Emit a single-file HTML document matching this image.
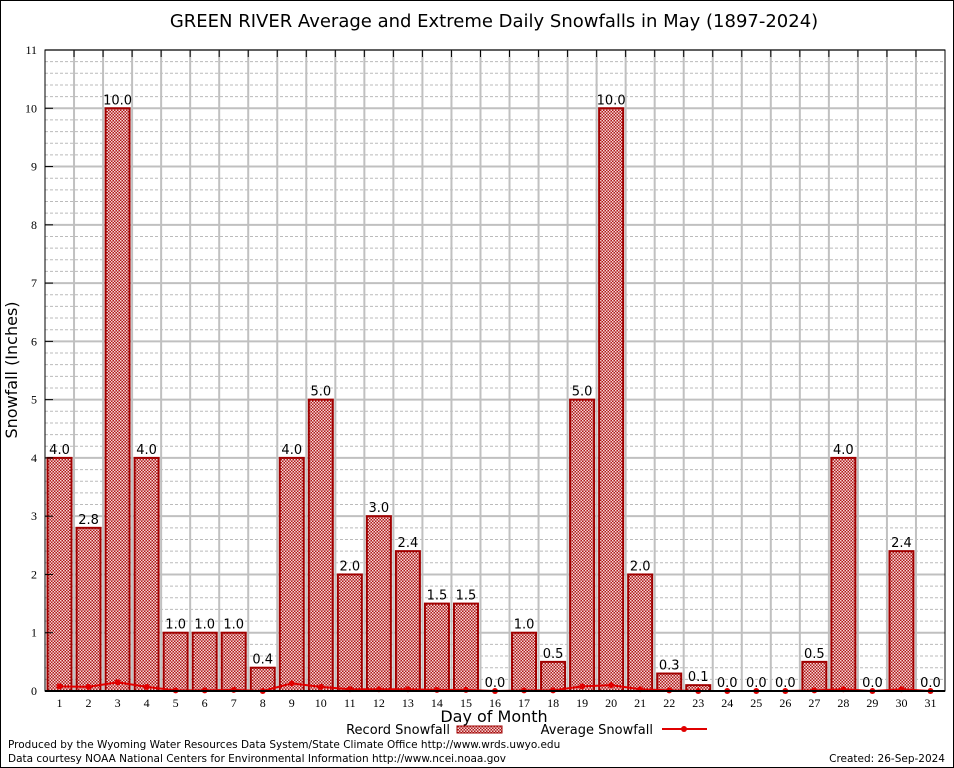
<!DOCTYPE html>
<html><head><meta charset="utf-8"><style>
body{margin:0;background:#fff}
svg{display:block;font-family:"DejaVu Sans","Liberation Sans",sans-serif}
</style></head><body>
<svg id="c" width="954" height="768">
<defs>
<pattern id="chk" width="3" height="3" patternUnits="userSpaceOnUse">
<rect width="3" height="3" fill="#b01818"/>
<rect x="0" y="0" width="1.5" height="1.5" fill="#f4d8d8"/>
<rect x="1.5" y="1.5" width="1.5" height="1.5" fill="#f4d8d8"/>
</pattern>
</defs>
<rect x="0.5" y="0.5" width="953" height="767" fill="#fff" stroke="#000"/>
<text x="494" y="27" font-size="18" text-anchor="middle">GREEN RIVER Average and Extreme Daily Snowfalls in May (1897-2024)</text>
<g id="grid"></g>
<g id="bars"></g>
<g id="avg"></g>
<g id="axes"></g>
<text x="17" y="370" font-size="16" text-anchor="middle" transform="rotate(-90 17 370)">Snowfall (Inches)</text>
<text x="494" y="722" font-size="16" text-anchor="middle">Day of Month</text>
<g>
<text x="450" y="734" font-size="13" text-anchor="end">Record Snowfall</text>
<rect x="457" y="726" width="45" height="7" fill="url(#chk)" stroke="#a00000"/>
<text x="653" y="734" font-size="13" text-anchor="end">Average Snowfall</text>
<line x1="662" y1="729" x2="707" y2="729" stroke="#e00000" stroke-width="2"/>
<circle cx="684" cy="729" r="3" fill="#e00000"/>
</g>
<text x="8" y="748" font-size="10.5">Produced by the Wyoming Water Resources Data System/State Climate Office http://www.wrds.uwyo.edu</text>
<text x="8" y="762" font-size="10.5">Data courtesy NOAA National Centers for Environmental Information http://www.ncei.noaa.gov</text>
<text x="945" y="762" font-size="10.5" text-anchor="end">Created:  26-Sep-2024</text>
</svg>
<script>
const days=[1,2,3,4,5,6,7,8,9,10,11,12,13,14,15,16,17,18,19,20,21,22,23,24,25,26,27,28,29,30,31];
const recordSnow=[4.0,2.8,10.0,4.0,1.0,1.0,1.0,0.4,4.0,5.0,2.0,3.0,2.4,1.5,1.5,0.0,1.0,0.5,5.0,10.0,2.0,0.3,0.1,0.0,0.0,0.0,0.5,4.0,0.0,2.4,0.0];
const avgSnow=[0.08,0.07,0.15,0.07,0.01,0.01,0.02,0.0,0.13,0.07,0.03,0.03,0.03,0.02,0.02,0.0,0.01,0.01,0.08,0.1,0.03,0.01,0.0,0.0,0.0,0.0,0.01,0.03,0.0,0.03,0.0];
const yTicks=[0,1,2,3,4,5,6,7,8,9,10,11];
const NS="http://www.w3.org/2000/svg";
const L=45,R=945,T=50,B=691,yMax=11;
const step=(R-L)/days.length;
const x=d=>L+step*(d-0.5);
const y=v=>B-(v/yMax)*(B-T);
function mk(t,a,p){const e=document.createElementNS(NS,t);for(const k in a)e.setAttribute(k,a[k]);p.appendChild(e);return e;}
const grid=document.getElementById('grid'),bars=document.getElementById('bars'),avg=document.getElementById('avg'),axes=document.getElementById('axes');
for(let v=0;v<=yMax;v+=0.2){const yy=y(v);if(Math.abs(v-Math.round(v))<1e-6)continue;
const l=mk('line',{x1:L,x2:R,y1:yy,y2:yy,stroke:'#bbb','stroke-dasharray':'3,2','stroke-width':1},grid);

}
yTicks.forEach(v=>{const yy=y(v);
const l=mk('line',{x1:L,x2:R,y1:yy,y2:yy,stroke:'#c0c0c0','stroke-width':2},grid);


const t=mk('text',{x:L-8,y:yy+4,'font-size':12,'text-anchor':'end','font-family':'Liberation Serif,serif'},axes);t.textContent=v;


const tk=mk('line',{x1:L,x2:L+8,y1:yy,y2:yy,stroke:'#000'},axes);


});
for(let k=1;k<days.length;k++){const xx=L+step*k;
const l=mk('line',{x1:xx,x2:xx,y1:T,y2:B,stroke:'#c0c0c0','stroke-width':2},grid);


const tk=mk('line',{x1:xx,x2:xx,y1:T,y2:T+7,stroke:'#000'},axes);

}
days.forEach((d,i)=>{const v=recordSnow[i],cx=x(d),w=24;
if(v>0){const r=mk('rect',{x:cx-w/2,y:y(v),width:w,height:B-y(v),fill:'url(#chk)',stroke:'#a00000','stroke-width':2},bars);

}
const t=mk('text',{x:cx,y:y(v)-4,'font-size':13,'text-anchor':'middle'},bars);t.textContent=v.toFixed(1);


const xl=mk('text',{x:cx,y:B+16,'font-size':12,'text-anchor':'middle','font-family':'Liberation Serif,serif'},axes);xl.textContent=d;


});
const pl=mk('polyline',{points:days.map((d,i)=>x(d)+','+y(avgSnow[i])).join(' '),fill:'none',stroke:'#e00000','stroke-width':2},avg);


days.forEach((d,i)=>{const c=mk('circle',{cx:x(d),cy:y(avgSnow[i]),r:3,fill:'#e00000'},avg);

});
const fr=mk('rect',{x:L,y:T,width:R-L,height:B-T,fill:'none',stroke:'#000','stroke-width':1},axes);


const ax=mk('line',{x1:L,x2:R,y1:B,y2:B,stroke:'#000','stroke-width':2},axes);


</script>
</body></html>
